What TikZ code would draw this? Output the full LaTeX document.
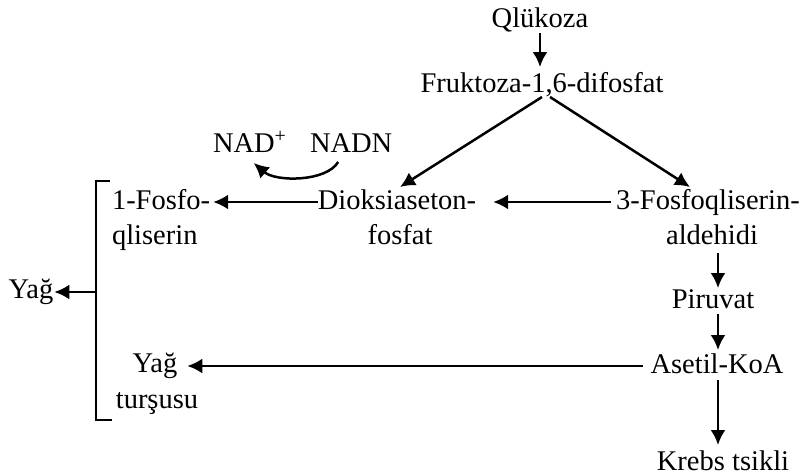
\documentclass[tikz,border=0pt]{standalone}
\usepackage{fontspec}
\setmainfont{Liberation Serif}
\usetikzlibrary{arrows.meta,calc}
\begin{document}
\begin{tikzpicture}[x=1pt,y=-1pt,
  lbl/.style={inner sep=0pt, outer sep=0pt, font=\fontsize{28.5}{35}\selectfont, text height=20pt, text depth=6pt, anchor=base},
  conn/.style={line width=2.5pt, -{Latex[length=15pt,width=15pt]}},
  brk/.style={line width=2.5pt}]
\useasboundingbox (0,0) rectangle (804,475);
% nodes
\node[lbl] (glc) at (540,27) {Qlükoza};
\node[lbl] (fru) at (542,92) {Fruktoza-1,6-difosfat};
\node[lbl,anchor=base west] (nad) at (213,152) {NAD\textsuperscript{+}};
\node[lbl,anchor=base west] (nadh) at (310,152) {NADN};
\node[lbl,anchor=base west] (fosa) at (112,209) {1-Fosfo-};
\node[lbl,anchor=base west] (fosb) at (112,244) {qliserin};
\node[lbl] (dioa) at (397,209) {Dioksiaseton-};
\node[lbl] (diob) at (400,244) {fosfat};
\node[lbl] (gapa) at (708,209) {3-Fosfoqliserin-};
\node[lbl] (gapb) at (712,244) {aldehidi};
\node[lbl] (pir) at (713,308) {Piruvat};
\node[lbl] (ace) at (717,373) {Asetil-KoA};
\node[lbl] (fata) at (155,372) {Yağ};
\node[lbl] (fatb) at (157,408) {turşusu};
\node[lbl] (fat) at (31,298) {Yağ};
\node[lbl] (krebs) at (723,470) {Krebs tsikli};
\coordinate (col) at (718,0);
\coordinate (brm) at (96,292);
% connectors
\draw[conn] (glc.south) -- ($(glc.south |- fru.north)+(0,-5)$);
\draw[conn] ($(fru.south)+(0,-1)$) -- ($(dioa.north)+(3,-2)$);
\draw[conn] ($(fru.south)+(8,-1)$) -- ($(gapa.north)+(-18,-2)$);
\draw[conn] ($(nadh.south)+(-13,4)$) .. controls ($(nadh.south)+(-25,24)$) and ($(nad.south)+(26,24)$) .. ($(nad.south)+(4,5)$);
\draw[conn, shorten <=5pt, shorten >=17pt] (gapa.west) -- (dioa.east);
\draw[conn, shorten >=3pt] (dioa.west) -- (fosa.east);
\draw[conn, shorten <=3pt] (gapb.south -| col) -- (pir.north -| col);
\draw[conn] (pir.south -| col) -- ($(ace.north -| col)+(0,-3)$);
\draw[conn, shorten <=1pt, shorten >=5pt] (ace.south -| col) -- (krebs.north -| col);
\draw[conn, shorten <=8pt, shorten >=10pt] (ace.west) -- (ace.west -| fata.east);
\draw[brk] (110,181) -- (96,181) -- (96,420) -- (112,420);
\draw[conn, shorten >=1pt] (brm) -- (brm -| fat.east);
\end{tikzpicture}
\end{document}
